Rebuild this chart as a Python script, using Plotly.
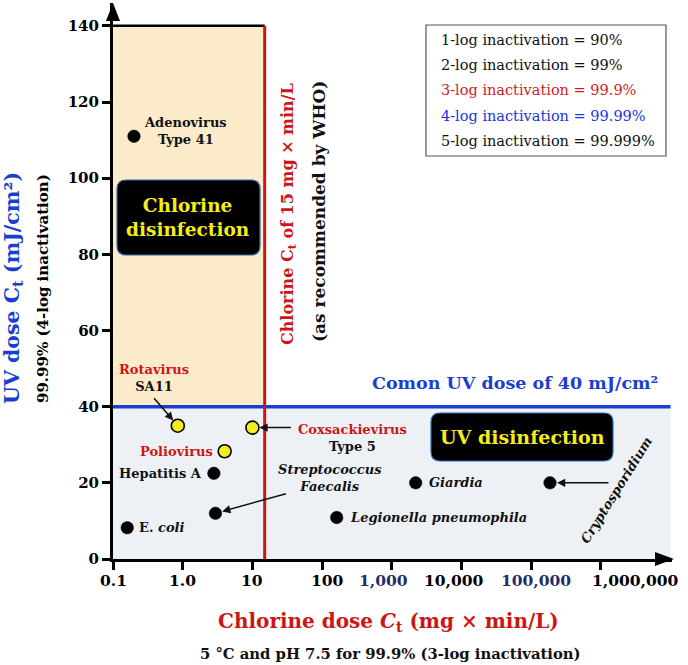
import numpy as np
import plotly.graph_objects as go

# ---------------- data ----------------
organisms = ["Adenovirus Type 41", "Rotavirus SA11", "Coxsackievirus Type 5", "Poliovirus",
             "Hepatitis A", "Streptococcus Faecalis", "E. coli", "Legionella pneumophila",
             "Giardia", "Cryptosporidium"]
chlorine_ct = [0.2, 0.85, 10, 4.0, 2.8, 2.95, 0.16, 162, 2200, 186000]
uv_dose = [111, 35, 34.5, 28.3, 22.5, 12, 8.2, 10.9, 20, 20]
is_yellow = [False, True, True, True, False, False, False, False, False, False]

x_tickvals = [0.1, 1, 10, 100, 1000, 10000, 100000, 1000000]
x_ticklabels = ["0.1", "1.0", "10", "100", "1,000", "10,000", "100,000", "1,000,000"]
x_tickcolors = ["black", "black", "black", "black", "#1f2d6b", "black", "#1f2d6b", "black"]
y_tickvals = [0, 20, 40, 60, 80, 100, 120, 140]

chlorine_limit = 15      # mg x min/L (WHO)
uv_common = 40           # mJ/cm2
y_top = 140

legend_lines = ["1-log inactivation = 90%", "2-log inactivation = 99%", "3-log inactivation = 99.9%",
                "4-log inactivation = 99.99%", "5-log inactivation = 99.999%"]
legend_colors = ["#111111", "#111111", "#d01c1c", "#1a35e0", "#111111"]

FONT = "DejaVu Serif, Liberation Serif, serif"
RED = "#cc1616"
BLUE = "#1a3fd0"

# layout geometry in pixels
W, H = 688, 665
L, R, T, B = 113, 16, 3, 106
PW, PH = W - L - R, H - T - B


def pxp(x):
    return (x - L) / PW


def pyp(y):
    return (H - B - y) / PH


fig = go.Figure()

# points
colors = ["#f5ec1c" if c else "#000000" for c in is_yellow]
fig.add_trace(go.Scatter(
    x=chlorine_ct, y=uv_dose, mode="markers",
    marker=dict(size=[13 if c else 12.5 for c in is_yellow], color=colors, opacity=1,
                line=dict(color="#000000", width=[1.6 if c else 0.5 for c in is_yellow])),
    hoverinfo="text", text=organisms, showlegend=False))

shapes = []
# regions
shapes.append(dict(type="rect", xref="x", yref="y", x0=0.1, x1=chlorine_limit, y0=uv_common, y1=y_top,
                   fillcolor="#fcebcb", line=dict(width=0), layer="below"))
shapes.append(dict(type="rect", xref="x", yref="y", x0=0.1, x1=10 ** 7.0, y0=0, y1=uv_common,
                   fillcolor="#edf1f6", line=dict(width=0), layer="below"))
shapes.append(dict(type="line", xref="x", yref="y", x0=0.1, x1=chlorine_limit, y0=y_top, y1=y_top,
                   line=dict(color="black", width=2.5), layer="below"))
shapes.append(dict(type="line", xref="x", yref="y", x0=0.1, x1=10 ** 7.0, y0=uv_common, y1=uv_common,
                   line=dict(color=BLUE, width=3.5), layer="below"))
shapes.append(dict(type="line", xref="x", yref="y", x0=chlorine_limit, x1=chlorine_limit, y0=0, y1=y_top,
                   line=dict(color=RED, width=3), layer="below"))


def rounded(x0, y0, x1, y1, r):
    a, b, c, d = pxp(x0), pxp(x1), pyp(y0), pyp(y1)
    rx, ry = r / PW, r / PH
    return (f"M {a+rx},{c} L {b-rx},{c} Q {b},{c} {b},{c-ry} L {b},{d+ry} Q {b},{d} {b-rx},{d} "
            f"L {a+rx},{d} Q {a},{d} {a},{d+ry} L {a},{c-ry} Q {a},{c} {a+rx},{c} Z")


shapes.append(dict(type="path", xref="paper", yref="paper", path=rounded(117, 180, 260, 255, 9),
                   fillcolor="black", line=dict(color="#2b6fb5", width=1.2)))
shapes.append(dict(type="path", xref="paper", yref="paper", path=rounded(431, 413, 613, 461, 9),
                   fillcolor="black", line=dict(color="#2b6fb5", width=1.2)))

# legend box
shapes.append(dict(type="rect", xref="paper", yref="paper", x0=pxp(426), x1=pxp(666), y0=pyp(156), y1=pyp(25),
                   fillcolor="white", line=dict(color="#555555", width=1.2)))

# axis arrowheads
tx, ty = pxp(113), pyp(3)
shapes.append(dict(type="path", xref="paper", yref="paper",
                   path=f"M {tx},{ty} L {pxp(106)},{pyp(21)} L {pxp(120)},{pyp(21)} Z",
                   fillcolor="black", line=dict(width=0)))
shapes.append(dict(type="path", xref="paper", yref="paper",
                   path=f"M {pxp(674)},{pyp(559)} L {pxp(655)},{pyp(552)} L {pxp(655)},{pyp(566)} Z",
                   fillcolor="black", line=dict(width=0)))

ann = []


def ptext(txt, cx, cy, size, color="black", angle=0, xanchor="center", bold=True):
    t = f"<b>{txt}</b>" if bold else txt
    ann.append(dict(text=t, x=pxp(cx), y=pyp(cy), xref="paper", yref="paper", showarrow=False,
                    xanchor=xanchor, yanchor="middle", textangle=angle,
                    font=dict(family=FONT, size=size, color=color)))


# axis titles
ptext("UV dose C<sub>t</sub> (mJ/cm²)", 13, 288, 20.5, BLUE, -90)
ptext("99.99% (4-log inactivation)", 43, 289, 15, "black", -90)
ptext("Chlorine dose <i>C</i><sub>t</sub> (mg × min/L)", 388, 622, 20, RED)
ptext("5 °C and pH 7.5 for 99.9% (3-log inactivation)", 390, 653, 14.8, "#111111")
ptext("Chlorine C<sub>t</sub> of 15 mg × min/L", 289, 214, 16, RED, -90)
ptext("(as recommended by WHO)", 319, 212, 17, "#111111", -90)
ptext("Comon UV dose of 40 mJ/cm²", 515, 383, 17.5, BLUE)
ptext("Chlorine<br>disinfection", 188, 217, 18.5, "#f5ec1c")
ptext("UV disinfection", 522, 437, 19, "#f5ec1c")

# legend text
for i, (t, c) in enumerate(zip(legend_lines, legend_colors)):
    ptext(t, 439, 40 + i * 25.2, 14.5, c, xanchor="left", bold=False)

# x tick labels (placed on the axis values)
x_label_shift = [0, 0, 0, 5, -8, -8, 5, 35]
for v, t, c, s in zip(x_tickvals, x_ticklabels, x_tickcolors, x_label_shift):
    ann.append(dict(text=f"<b>{t}</b>", x=np.log10(v), y=0, xref="x", yref="paper", showarrow=False,
                    xanchor="center", yanchor="middle", xshift=s, yshift=-21,
                    font=dict(family=FONT, size=15.5, color=c)))

# point labels anchored to data points
lab = [
    (0, "Adenovirus<br>Type 41", "center", 52, 5, "#111111"),
    (1, "<span style='color:#cc1616'>Rotavirus</span><br>SA11", "center", -24, 48, "#111111"),
    (2, "<span style='color:#cc1616'>Coxsackievirus</span><br>Type 5", "center", 100, -10, "#111111"),
    (3, "Poliovirus", "right", -10, 0, RED),
    (4, "Hepatitis A", "right", -10, 0, "#111111"),
    (5, "<i>Streptococcus<br>Faecalis</i>", "center", 115, 35, "#111111"),
    (6, "E. <i>coli</i>", "left", 10, 0, "#111111"),
    (7, "<i>Legionella pneumophila</i>", "left", 11, 0, "#111111"),
    (8, "<i>Giardia</i>", "left", 11, 0, "#111111"),
]
for idx, t, xa, xs, ys, col in lab:
    ann.append(dict(text=f"<b>{t}</b>", x=np.log10(chlorine_ct[idx]), y=uv_dose[idx], xref="x", yref="y",
                    showarrow=False, xanchor=xa, yanchor="middle", xshift=xs, yshift=ys,
                    font=dict(family=FONT, size=13, color=col)))
ann.append(dict(text="<b><i>Cryptosporidium</i></b>", x=np.log10(chlorine_ct[9]), y=uv_dose[9],
                xref="x", yref="y", showarrow=False, xanchor="center", yanchor="middle",
                xshift=67, yshift=-7, textangle=-58, font=dict(family=FONT, size=13, color="#111111")))

# arrows (head at point, tail offset in pixels)
arrows = [(1, -25, -29), (2, 40, 0), (5, 72, -20), (9, 60, 0)]
for idx, axp, ayp in arrows:
    ann.append(dict(text="", x=np.log10(chlorine_ct[idx]), y=uv_dose[idx], xref="x", yref="y",
                    showarrow=True, ax=axp, ay=ayp, standoff=7, arrowhead=2, arrowsize=1.1,
                    arrowwidth=1.5, arrowcolor="#111111"))

fig.update_layout(
    width=W, height=H, margin=dict(l=L, r=R, t=T, b=B, autoexpand=False),
    paper_bgcolor="white", plot_bgcolor="white",
    shapes=shapes, annotations=ann, showlegend=False,
    xaxis=dict(type="log", range=[-1, 7.02], tickvals=x_tickvals, showticklabels=False,
               showgrid=False, zeroline=False, showline=True, linecolor="black", linewidth=3,
               ticks="outside", ticklen=8, tickwidth=2.5, tickcolor="black", automargin=False),
    yaxis=dict(range=[0, 146], tickvals=y_tickvals, ticktext=[f"<b>{v}</b>" for v in y_tickvals],
               showgrid=False, zeroline=False, showline=True, linecolor="black", linewidth=3,
               ticks="outside", ticklen=8, tickwidth=2.5, tickcolor="black", automargin=False,
               tickfont=dict(family=FONT, size=15, color="black")),
)

fig.write_html("out.html", config={"displayModeBar": False},
               post_script="document.body.style.margin='0';document.body.style.overflow='hidden';")
